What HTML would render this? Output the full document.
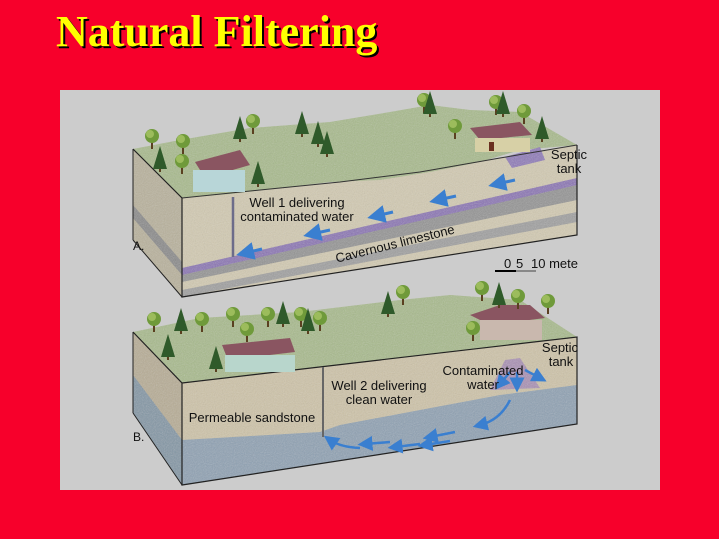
<!DOCTYPE html>
<html><head><meta charset="utf-8"><style>
html,body{margin:0;padding:0;background:#f7002b;}
body{width:719px;height:539px;position:relative;overflow:hidden;}
.t{position:absolute;left:56px;top:6px;font-family:"Liberation Serif",serif;font-weight:bold;font-size:44px;color:#ffff00;text-shadow:2px 2px 0 #000;white-space:nowrap;}
svg{position:absolute;left:0;top:0;}
</style></head><body>
<div class="t">Natural Filtering</div>
<svg width="719" height="539" viewBox="0 0 719 539" font-family="Liberation Sans, sans-serif">
<defs>
<filter id="n" x="0" y="0" width="1" height="1">
<feTurbulence type="fractalNoise" baseFrequency="0.9" numOctaves="1" result="t"/>
<feColorMatrix type="saturate" values="0" in="t" result="g"/>
<feComponentTransfer in="g" result="g2"><feFuncA type="table" tableValues="0 0.35"/></feComponentTransfer>
<feComposite in="g2" in2="SourceGraphic" operator="in" result="m"/>
<feMerge><feMergeNode in="SourceGraphic"/><feMergeNode in="m"/></feMerge>
</filter>
<marker id="ah" markerWidth="6" markerHeight="6" refX="3" refY="3" orient="auto"><polygon points="0,0 6,3 0,6" fill="#3a7fd0"/></marker>
<g id="tr"><rect x="-1" y="0" width="2" height="9" fill="#5a4020"/><circle cx="0" cy="-4" r="7" fill="#6f9a3a"/><circle cx="-2" cy="-6" r="4" fill="#9cbc5c"/></g>
<g id="pn"><rect x="-1" y="8" width="2" height="4" fill="#5a4020"/><polygon points="0,-14 7,9 -7,9" fill="#2f5a2a"/></g>
</defs>
<rect x="60" y="90" width="600" height="400" fill="#cccccc"/>

<!-- Block A -->
<g filter="url(#n)">
<polygon points="133,149 182,198 182,297 133,240" fill="#b9b29c"/>
<polygon points="133,205 182,262 182,275 133,218" fill="#8a8a8a"/>
<polygon points="182,198 260,190 340,182 420,172 500,158 577,145 577,235 182,297" fill="#d3cbb2"/>
<polygon points="182,268 577,185 577,200 182,282" fill="#949494"/>
<polygon points="182,268 577,178 577,185 182,275" fill="#8b73b5"/>
<polygon points="577,212 182,290 182,297 577,222" fill="#a0a0a0"/>
<polygon points="133,149 180,140 250,128 330,122 390,112 430,105 470,110 520,112 577,145 520,150 480,162 430,172 380,180 330,182 280,188 230,194 182,198" fill="#a9bb8c"/>
<polygon points="505,157 540,147 545,160 512,168" fill="#8f79b9"/>
</g>
<polyline points="182,198 260,190 340,182 420,172 500,158 577,145" fill="none" stroke="#333" stroke-width="1"/>
<polyline points="133,149 182,198 182,297 577,235 577,145" fill="none" stroke="#222" stroke-width="1.2"/>
<line x1="133" y1="149" x2="133" y2="240" stroke="#222"/><line x1="133" y1="240" x2="182" y2="297" stroke="#222"/>
<polygon points="195,162 240,150 250,165 205,178" fill="#8a5561"/>
<rect x="193" y="170" width="52" height="22" fill="#b8d6d8"/>
<polygon points="470,128 520,122 532,135 480,140" fill="#8a5561"/>
<rect x="475" y="138" width="55" height="14" fill="#d7d0a6"/>
<rect x="489" y="142" width="5" height="9" fill="#6a3020"/>
<line x1="233" y1="197" x2="233" y2="257" stroke="#6c6c8a" stroke-width="2.5"/>
<g stroke="#3a7fd0" stroke-width="3" marker-end="url(#ah)">
<line x1="262" y1="249" x2="245" y2="253"/>
<line x1="330" y1="230" x2="312" y2="234"/>
<line x1="393" y1="212" x2="376" y2="216"/>
<line x1="456" y1="196" x2="438" y2="200"/>
<line x1="515" y1="180" x2="497" y2="184"/>
</g>
<use href="#tr" x="152" y="140"/><use href="#pn" x="160" y="160"/><use href="#tr" x="183" y="145"/><use href="#tr" x="182" y="165"/>
<use href="#pn" x="240" y="130"/><use href="#tr" x="253" y="125"/><use href="#pn" x="302" y="125"/><use href="#pn" x="318" y="135"/><use href="#pn" x="327" y="145"/>
<use href="#tr" x="424" y="104"/><use href="#pn" x="430" y="105"/><use href="#tr" x="455" y="130"/><use href="#tr" x="496" y="106"/><use href="#pn" x="503" y="105"/><use href="#tr" x="524" y="115"/><use href="#pn" x="542" y="130"/><use href="#pn" x="258" y="175"/>
<g font-size="13" fill="#111" text-anchor="middle">
<text x="297" y="207">Well 1 delivering</text>
<text x="297" y="221">contaminated water</text>
<text x="396" y="248" transform="rotate(-14 396 248)">Cavernous limestone</text>
<text x="569" y="159">Septic</text>
<text x="569" y="173">tank</text>
</g>
<text x="133" y="250" font-size="12" fill="#111">A.</text>
<text x="504" y="268" font-size="13" fill="#111">0</text><text x="516" y="268" font-size="13" fill="#111">5</text><text x="531" y="268" font-size="13" fill="#111">10 mete</text>
<line x1="495" y1="271" x2="516" y2="271" stroke="#000" stroke-width="2"/><line x1="516" y1="271" x2="536" y2="271" stroke="#888" stroke-width="2"/>

<!-- Block B -->
<g filter="url(#n)">
<polygon points="133,332 182,383 182,485 133,413" fill="#b8ad95"/>
<polygon points="133,375 182,440 182,485 133,413" fill="#8397a6"/>
<polygon points="182,383 577,337 577,424 182,485" fill="#cfc4a9"/>
<polygon points="182,440 320,432 340,425 420,410 500,395 577,385 577,424 182,485" fill="#8fa2b4"/>
<polygon points="133,332 200,318 300,312 400,300 450,295 520,300 577,337 182,383" fill="#a9bb8c"/>
<polygon points="505,360 520,358 540,388 490,390" fill="#a084b8" opacity="0.8"/>
</g>
<polyline points="133,332 182,383 182,485 577,424 577,337 182,383" fill="none" stroke="#222" stroke-width="1.2"/>
<line x1="133" y1="332" x2="133" y2="413" stroke="#222"/><line x1="133" y1="413" x2="182" y2="485" stroke="#222"/>
<polygon points="222,345 290,338 295,352 228,360" fill="#8a5561"/>
<rect x="225" y="355" width="70" height="17" fill="#b8d6cc"/>
<polygon points="470,315 500,305 530,305 545,318 490,325" fill="#8a5561"/>
<rect x="480" y="320" width="62" height="20" fill="#c9b8ae"/>
<line x1="323" y1="367" x2="323" y2="437" stroke="#666" stroke-width="2"/>
<g fill="none" stroke="#3a7fd0" stroke-width="2.5" marker-end="url(#ah)">
<path d="M510,372 L500,384"/><path d="M517,372 L517,385"/><path d="M525,370 L540,378"/>
<path d="M510,400 Q500,420 480,425"/><path d="M455,432 L430,437"/>
<path d="M450,441 L425,445"/><path d="M420,444 L395,447"/><path d="M390,442 L365,444"/><path d="M360,448 Q340,447 330,440"/>
</g>
<use href="#tr" x="154" y="323"/><use href="#pn" x="181" y="322"/><use href="#tr" x="202" y="323"/><use href="#tr" x="233" y="318"/><use href="#pn" x="168" y="348"/><use href="#pn" x="216" y="360"/>
<use href="#tr" x="268" y="318"/><use href="#tr" x="247" y="333"/><use href="#pn" x="283" y="315"/><use href="#tr" x="301" y="318"/><use href="#pn" x="308" y="322"/><use href="#tr" x="320" y="322"/>
<use href="#pn" x="388" y="305"/><use href="#tr" x="403" y="296"/><use href="#tr" x="482" y="292"/><use href="#pn" x="499" y="296"/><use href="#tr" x="518" y="300"/><use href="#tr" x="548" y="305"/><use href="#tr" x="473" y="332"/>
<g font-size="13" fill="#111" text-anchor="middle">
<text x="560" y="352">Septic</text>
<text x="561" y="366">tank</text>
<text x="483" y="375">Contaminated</text>
<text x="483" y="389">water</text>
<text x="379" y="390">Well 2 delivering</text>
<text x="379" y="404">clean water</text>
<text x="252" y="422">Permeable sandstone</text>
</g>
<text x="133" y="441" font-size="12" fill="#111">B.</text>
</svg>
</body></html>
